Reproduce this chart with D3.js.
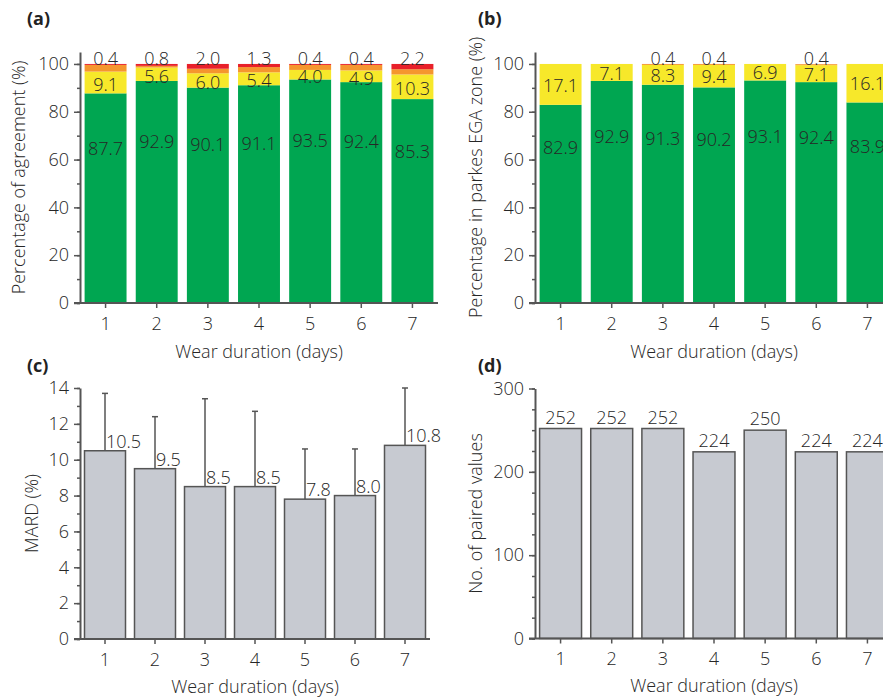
<!DOCTYPE html>
<html>
<head>
<meta charset="utf-8">
<script src="https://cdn.jsdelivr.net/npm/d3@7"></script>
<style>
  body { margin: 0; background: #fff; }
  svg { display: block; font-family: "Open Sans", "Noto Sans", sans-serif; font-weight: 300; }
</style>
</head>
<body>
<div id="chart"></div>
<script>
/*****************************************************
 * DATA
 *****************************************************/
const days = [1, 2, 3, 4, 5, 6, 7];

// (a) agreement zones, stacked bottom -> top
const agreeGreen  = [87.7, 92.9, 90.1, 91.1, 93.5, 92.4, 85.3];
const agreeYellow = [9.1, 5.6, 6.0, 5.4, 4.0, 4.9, 10.3];
const agreeOrange = [2.8, 0.7, 1.9, 2.2, 2.1, 2.3, 2.2];
const agreeRed    = [0.4, 0.8, 2.0, 1.3, 0.4, 0.4, 2.2];

// (b) parkes EGA zones
const egaA = [82.9, 92.9, 91.3, 90.2, 93.1, 92.4, 83.9];
const egaB = [17.1, 7.1, 8.3, 9.4, 6.9, 7.1, 16.1];
const egaC = [0, 0, 0.4, 0.4, 0, 0.4, 0];

// (c) MARD with SD
const mard   = [10.5, 9.5, 8.5, 8.5, 7.8, 8.0, 10.8];
const mardSD = [3.2, 2.9, 4.9, 4.2, 2.8, 2.6, 3.2];

// (d) number of paired values
const pairs = [252, 252, 252, 224, 250, 224, 224];

const pctTicks = [0, 20, 40, 60, 80, 100];
const mardTicks = [0, 2, 4, 6, 8, 10, 12, 14];
const pairTicks = [0, 100, 200, 300];

const COL = { green: "#00a651", yellow: "#f7e82a", orange: "#f5962e", red: "#e8202a", gray: "#c7cad1" };
const AXIS = "#555";
const TXT = "#262626";

const W = 883, H = 698;
const svg = d3.select("#chart").append("svg").attr("width", W).attr("height", H);

/*****************************************************
 * PANEL HELPER
 *****************************************************/
function makePanel(o) {
  const g = svg.append("g");
  const x = d3.scaleBand().domain(days).range([o.x0, o.x1]).paddingInner(0.18).paddingOuter(0.09);
  const y = d3.scaleLinear().domain(o.yDomain).range([o.yBottom, o.yTop]);

  // minor ticks
  g.append("g")
    .attr("transform", `translate(${o.x0},0)`)
    .call(d3.axisLeft(y).tickValues(o.minor).tickSize(3).tickFormat(""))
    .call(s => s.select(".domain").remove())
    .call(s => s.selectAll("line").attr("stroke", AXIS).attr("stroke-width", 1.5));

  // major ticks + y domain
  g.append("g")
    .attr("transform", `translate(${o.x0},0)`)
    .call(d3.axisLeft(y).tickValues(o.ticks).tickSize(6).tickSizeOuter(0).tickPadding(5))
    .attr("font-family", null).attr("font-size", 18)
    .call(s => s.select(".domain").attr("stroke", AXIS).attr("stroke-width", 2))
    .call(s => s.selectAll("line").attr("stroke", AXIS).attr("stroke-width", 1.5))
    .call(s => s.selectAll("text").attr("fill", TXT));

  // x axis
  g.append("g")
    .attr("transform", `translate(0,${o.yBottom})`)
    .call(d3.axisBottom(x).tickSize(5).tickPadding(9))
    .attr("font-family", null).attr("font-size", 18)
    .call(s => s.select(".domain").remove())
    .call(s => s.selectAll("line").attr("stroke", AXIS).attr("stroke-width", 1.5))
    .call(s => s.selectAll("text").attr("fill", TXT));

  const barsG = g.append("g");

  g.append("line")
    .attr("x1", o.x0 - 6).attr("x2", o.x1)
    .attr("y1", o.yBottom).attr("y2", o.yBottom)
    .attr("stroke", AXIS).attr("stroke-width", 2);

  // titles
  g.append("text")
    .attr("x", (o.x0 + o.x1) / 2)
    .attr("y", o.xTitleY)
    .attr("text-anchor", "middle").attr("font-size", 18).attr("fill", TXT)
    .text("Wear duration (days)");

  g.append("text")
    .attr("transform", `translate(${o.yTitleX},${(o.yTop + o.yBottom) / 2}) rotate(-90)`)
    .attr("text-anchor", "middle").attr("font-size", 18).attr("fill", TXT)
    .text(o.yTitle);

  g.append("text")
    .attr("x", o.letterX).attr("y", o.letterY)
    .attr("font-size", 18).attr("font-weight", 700).attr("fill", "#222")
    .text(o.letter);

  return { g: barsG, x, y };
}

/*****************************************************
 * (a) AGREEMENT
 *****************************************************/
{
  const p = makePanel({
    x0: 80, x1: 438, yBottom: 303, yTop: 52, yDomain: [0, 105],
    ticks: pctTicks, minor: d3.range(0, 101, 10),
    xTitleY: 358, yTitleX: 25, yTitle: "Percentage of agreement (%)",
    letter: "(a)", letterX: 27, letterY: 25
  });
  const rows = days.map((d, i) => ({ day: d, green: agreeGreen[i], yellow: agreeYellow[i], orange: agreeOrange[i], red: agreeRed[i] }));
  const keys = ["green", "yellow", "orange", "red"];
  const stack = d3.stack().keys(keys)(rows);

  p.g.selectAll(".layer").data(stack).enter().append("g")
    .attr("fill", d => COL[d.key])
    .selectAll("rect").data(d => d).enter().append("rect")
    .attr("x", d => p.x(d.data.day))
    .attr("width", p.x.bandwidth())
    .attr("y", d => p.y(d[1]))
    .attr("height", d => p.y(d[0]) - p.y(d[1]));

  const lab = p.g.append("g").attr("font-size", 18).attr("fill", TXT).attr("text-anchor", "middle");
  lab.selectAll(".gl").data(rows).enter().append("text")
    .attr("x", d => p.x(d.day) + p.x.bandwidth() / 2)
    .attr("y", d => p.y(0.57 * d.green + 14.7))
    .attr("dy", "0.35em")
    .text(d => d.green.toFixed(1));
  lab.selectAll(".yl").data(rows).enter().append("text")
    .attr("x", d => p.x(d.day) + p.x.bandwidth() / 2)
    .attr("y", d => p.y(d.green + d.yellow / 2) + 2)
    .attr("dy", "0.35em")
    .text(d => d.yellow.toFixed(1));
  lab.selectAll(".rl").data(rows).enter().append("text")
    .attr("x", d => p.x(d.day) + p.x.bandwidth() / 2)
    .attr("y", p.y(100) + 1)
    .text(d => d.red.toFixed(1));
}

/*****************************************************
 * (b) PARKES EGA
 *****************************************************/
{
  const p = makePanel({
    x0: 535, x1: 893, yBottom: 303, yTop: 52, yDomain: [0, 105],
    ticks: pctTicks, minor: d3.range(0, 101, 10),
    xTitleY: 358, yTitleX: 482, yTitle: "Percentage in parkes EGA zone (%)",
    letter: "(b)", letterX: 478, letterY: 25
  });
  const rows = days.map((d, i) => ({ day: d, a: egaA[i], b: egaB[i], c: egaC[i] }));
  const stack = d3.stack().keys(["a", "b", "c"])(rows);
  const fills = { a: COL.green, b: COL.yellow, c: COL.orange };

  p.g.selectAll(".layer").data(stack).enter().append("g")
    .attr("fill", d => fills[d.key])
    .selectAll("rect").data(d => d).enter().append("rect")
    .attr("x", d => p.x(d.data.day))
    .attr("width", p.x.bandwidth())
    .attr("y", d => p.y(d[1]))
    .attr("height", d => p.y(d[0]) - p.y(d[1]));

  const lab = p.g.append("g").attr("font-size", 18).attr("fill", TXT).attr("text-anchor", "middle");
  lab.selectAll(".gl").data(rows).enter().append("text")
    .attr("x", d => p.x(d.day) + p.x.bandwidth() / 2)
    .attr("y", d => p.y(0.45 * d.a + 27.7))
    .attr("dy", "0.35em")
    .text(d => d.a.toFixed(1));
  lab.selectAll(".yl").data(rows).enter().append("text")
    .attr("x", d => p.x(d.day) + p.x.bandwidth() / 2)
    .attr("y", d => p.y(d.a + d.b / 2) + 1)
    .attr("dy", "0.35em")
    .text(d => d.b.toFixed(1));
  lab.selectAll(".ol").data(rows.filter(d => d.c > 0)).enter().append("text")
    .attr("x", d => p.x(d.day) + p.x.bandwidth() / 2)
    .attr("y", p.y(100) + 1)
    .text(d => d.c.toFixed(1));
}

/*****************************************************
 * (c) MARD
 *****************************************************/
{
  const p = makePanel({
    x0: 80, x1: 430, yBottom: 639, yTop: 388, yDomain: [0, 14],
    ticks: mardTicks, minor: d3.range(0, 15, 1),
    xTitleY: 693, yTitleX: 38, yTitle: "MARD (%)",
    letter: "(c)", letterX: 27, letterY: 372
  });
  const rows = days.map((d, i) => ({ day: d, v: mard[i], sd: mardSD[i] }));
  const cx = d => p.x(d.day) + p.x.bandwidth() / 2;

  p.g.selectAll("rect").data(rows).enter().append("rect")
    .attr("x", d => p.x(d.day))
    .attr("width", p.x.bandwidth())
    .attr("y", d => p.y(d.v))
    .attr("height", d => p.y(0) - p.y(d.v))
    .attr("fill", COL.gray).attr("stroke", AXIS).attr("stroke-width", 1.5);

  p.g.selectAll(".err").data(rows).enter().append("line")
    .attr("x1", cx).attr("x2", cx)
    .attr("y1", d => p.y(d.v)).attr("y2", d => p.y(d.v + d.sd))
    .attr("stroke", AXIS).attr("stroke-width", 1.5);
  p.g.selectAll(".cap").data(rows).enter().append("line")
    .attr("x1", d => cx(d) - 3).attr("x2", d => cx(d) + 3)
    .attr("y1", d => p.y(d.v + d.sd)).attr("y2", d => p.y(d.v + d.sd))
    .attr("stroke", AXIS).attr("stroke-width", 1.5);

  p.g.selectAll(".vl").data(rows).enter().append("text")
    .attr("x", d => cx(d) + 1)
    .attr("y", d => p.y(d.v) - 3)
    .attr("font-size", 18).attr("fill", TXT)
    .text(d => d.v.toFixed(1));
}

/*****************************************************
 * (d) PAIRED VALUES
 *****************************************************/
{
  const p = makePanel({
    x0: 535, x1: 893, yBottom: 638.5, yTop: 388.5, yDomain: [0, 300],
    ticks: pairTicks, minor: d3.range(0, 301, 25),
    xTitleY: 692, yTitleX: 482, yTitle: "No. of paired values",
    letter: "(d)", letterX: 478, letterY: 372
  });
  const cx = d => p.x(d.day) + p.x.bandwidth() / 2;
  const rows = days.map((d, i) => ({ day: d, v: pairs[i] }));

  p.g.selectAll("rect").data(rows).enter().append("rect")
    .attr("x", d => p.x(d.day))
    .attr("width", p.x.bandwidth())
    .attr("y", d => p.y(d.v))
    .attr("height", d => p.y(0) - p.y(d.v))
    .attr("fill", COL.gray).attr("stroke", AXIS).attr("stroke-width", 1.5);

  p.g.selectAll(".vl").data(rows).enter().append("text")
    .attr("x", cx)
    .attr("y", d => p.y(d.v) - 5)
    .attr("text-anchor", "middle")
    .attr("font-size", 18).attr("fill", TXT)
    .text(d => d.v);
}
</script>
</body>
</html>
